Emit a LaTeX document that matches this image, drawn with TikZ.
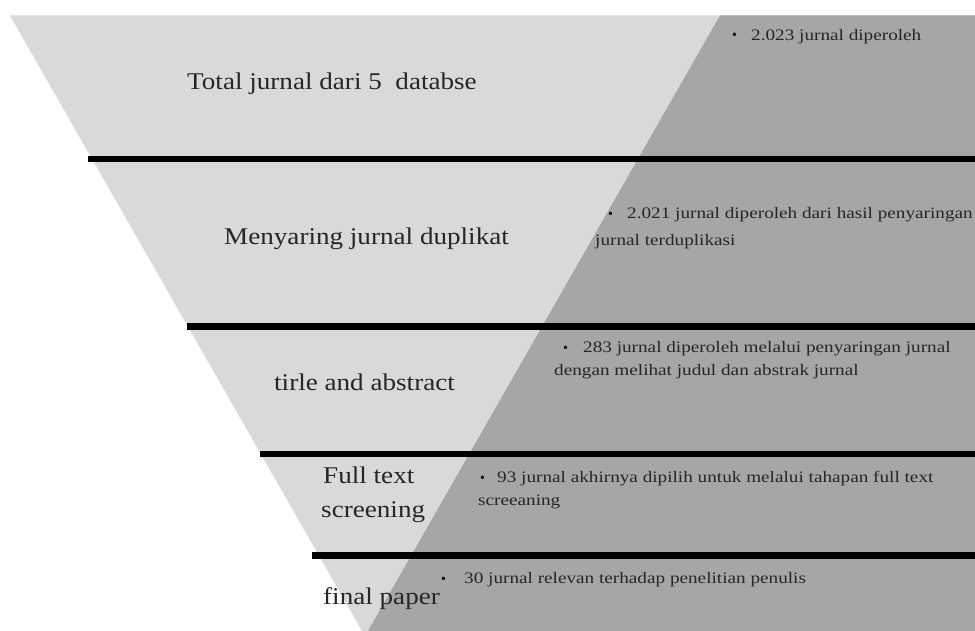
\documentclass[tikz,border=0pt]{standalone}
\usepackage{fontspec}
\setmainfont{Liberation Serif}
\newfontfamily\bigf[FakeStretch=1.13]{Liberation Serif}
\newfontfamily\smallf[FakeStretch=1.2]{Liberation Serif}
\definecolor{lightfill}{HTML}{D9D9D9}
\definecolor{darkfill}{HTML}{A6A6A6}
\definecolor{bigtext}{HTML}{262626}
\definecolor{smalltext}{HTML}{262626}
\tikzset{
  stage/.style={inner sep=0pt, anchor=base west, text=bigtext, font=\bigf\fontsize{24}{28}\selectfont},
  note/.style={inner sep=0pt, anchor=base west, text=smalltext, font=\smallf\fontsize{16}{20}\selectfont},
  dot/.style={inner sep=0pt, anchor=base west, text=black, font=\fontsize{14}{16}\selectfont},
  bar/.style={line width=6.5pt, black}
}
\begin{document}
\begin{tikzpicture}[x=1pt,y=-1pt]
\useasboundingbox (0,0) rectangle (975,631);
% funnel shapes
\fill[lightfill] (10,15.5) -- (975,15.5) -- (975,631) -- (362,631) -- cycle;
\fill[darkfill] (720,15.5) -- (975,15.5) -- (975,631) -- (368,631) -- cycle;
% separators
\coordinate (b1l) at (88,159);   \coordinate (b1r) at (975,159);
\coordinate (b2l) at (187,326.5); \coordinate (b2r) at (975,326.5);
\coordinate (b3l) at (260,454);  \coordinate (b3r) at (975,454);
\coordinate (b4l) at (312,555.5); \coordinate (b4r) at (975,555.5);
\draw[bar] (b1l) -- (b1r);
\draw[bar] (b2l) -- (b2r);
\draw[bar] (b3l) -- (b3r);
\draw[bar] (b4l) -- (b4r);
% stage labels
\node[stage] (s1) at (187,90) {Total jurnal dari 5\ \ databse};
\node[stage] (s2) at (224,245) {Menyaring jurnal duplikat};
\node[stage] (s3) at (274,390) {tirle and abstract};
\node[stage] (s4a) at (323,483) {Full text};
\node[stage] (s4b) at (321,517) {screening};
\node[stage] (s5) at (323,604) {final paper};
% notes
\node[dot] (d1) at (732,40) {•};
\node[note] (n1) at (751,40.5) {2.023 jurnal diperoleh};
\node[dot] (d2) at (608,219) {•};
\node[note] (n2a) at (627,219) {2.021 jurnal diperoleh dari hasil penyaringan};
\node[note] (n2b) at (595,246) {jurnal terduplikasi};
\node[dot] (d3) at (563,352) {•};
\node[note] (n3a) at (583,352) {283 jurnal diperoleh melalui penyaringan jurnal};
\node[dot] (d4) at (480,482) {•};
\node[note] (n3b) at (554,375) {dengan melihat judul dan abstrak jurnal};
\node[note] (n4a) at (497,482) {93 jurnal akhirnya dipilih untuk melalui tahapan full text};
\node[note] (n4b) at (478,505) {screeaning};
\node[dot] (d5) at (441,583) {•};
\node[note] (n5) at (464,583) {30 jurnal relevan terhadap penelitian penulis};
\end{tikzpicture}
\end{document}
